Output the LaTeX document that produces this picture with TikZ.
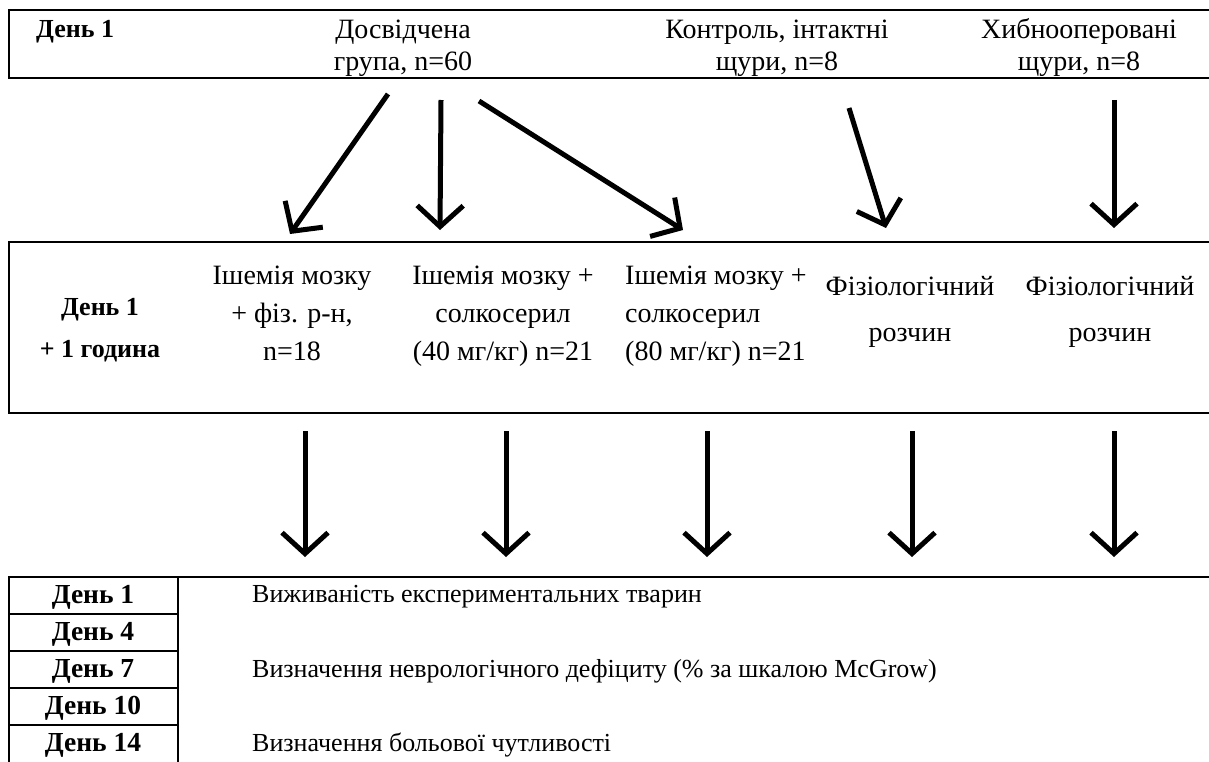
\documentclass[tikz,border=0pt]{standalone}
\usepackage{fontspec}
\setmainfont{Liberation Serif}
\usetikzlibrary{arrows.meta}
\tikzset{
  frame/.style={line width=2.5pt},
  txt/.style={font=\fontsize{28}{38}\selectfont, inner sep=0pt, align=center},
  toptxt/.style={font=\fontsize{28}{32}\selectfont, inner sep=0pt, align=center},
  daytxt/.style={font=\bfseries\fontsize{26}{42}\selectfont, inner sep=0pt, align=center},
  tabtxt/.style={font=\fontsize{26}{30}\selectfont, inner sep=0pt, anchor=west},
  tabday/.style={font=\bfseries\fontsize{27.5}{30}\selectfont, inner sep=0pt},
  bigarrow/.style={line width=5pt, -{Straight Barb[length=21pt,width=46pt]}},
}
\begin{document}
\begin{tikzpicture}[x=1pt,y=-1pt]
    \useasboundingbox (0,0) rectangle (1209,762);

    \draw[frame] (1209,10) -- (9,10) -- (9,78) -- (1209,78);
    \node[daytxt, anchor=west] (day0) at (36,32) {День 1};
    \node[toptxt] (grp) at (403,48) {Досвідчена\\група, n=60};
    \node[toptxt] (ctrl) at (777,48) {Контроль, інтактні\\щури, n=8};
    \node[toptxt] (sham) at (1079,48) {Хибнооперовані\\щури, n=8};

    \coordinate (a1s) at (388,94);
    \coordinate (a1e) at (290,234);
    \coordinate (a2s) at (441,100);
    \coordinate (a2e) at (440,230);
    \coordinate (a3s) at (479,101);
    \coordinate (a3e) at (683,230);
    \coordinate (a4s) at (849,108);
    \coordinate (a4e) at (886,228);
    \coordinate (a5s) at (1114,100);
    \coordinate (a5e) at (1114,228);
    \draw[bigarrow] (a1s) -- (a1e);
    \draw[bigarrow] (a2s) -- (a2e);
    \draw[bigarrow] (a3s) -- (a3e);
    \draw[bigarrow] (a4s) -- (a4e);
    \draw[bigarrow] (a5s) -- (a5e);

    \draw[frame] (1209,242) -- (9,242) -- (9,413) -- (1209,413);
    \node[daytxt] (dayhr) at (100,330) {День 1\\+ 1 година};
    \node[txt, anchor=north] (isch) at (292,266) {Ішемія мозку\\+ фіз. р-н,\\n=18};
    \node[txt, anchor=north] (sol40) at (503,266) {Ішемія мозку +\\солкосерил\\(40 мг/кг) n=21};
    \node[txt, align=left, anchor=north west] (sol80) at (625,266) {Ішемія мозку +\\солкосерил\\(80 мг/кг) n=21};
    \node[txt, font=\fontsize{28}{46}\selectfont] (phys1) at (910,312) {Фізіологічний\\розчин};
    \node[txt, font=\fontsize{28}{46}\selectfont] (phys2) at (1110,312) {Фізіологічний\\розчин};

    \coordinate (b1s) at (305,431);
    \coordinate (b1e) at (305,557);
    \coordinate (b2s) at (506,431);
    \coordinate (b2e) at (506,557);
    \coordinate (b3s) at (707,431);
    \coordinate (b3e) at (707,557);
    \coordinate (b4s) at (912,431);
    \coordinate (b4e) at (912,557);
    \coordinate (b5s) at (1114,431);
    \coordinate (b5e) at (1114,557);
    \draw[bigarrow] (b1s) -- (b1e);
    \draw[bigarrow] (b2s) -- (b2e);
    \draw[bigarrow] (b3s) -- (b3e);
    \draw[bigarrow] (b4s) -- (b4e);
    \draw[bigarrow] (b5s) -- (b5e);

    \draw[frame] (1209,577) -- (9,577) -- (9,762);
    \draw[frame] (178,577) -- (178,762);
    \draw[frame] (9,614) -- (178,614);
    \draw[frame] (9,651) -- (178,651);
    \draw[frame] (9,688) -- (178,688);
    \draw[frame] (9,725) -- (178,725);
    \node[tabday] (d1) at (93,597) {День 1};
    \node[tabday] (d4) at (93,634) {День 4};
    \node[tabday] (d7) at (93,671) {День 7};
    \node[tabday] (d10) at (93,708) {День 10};
    \node[tabday] (d14) at (93,745) {День 14};
    \node[tabtxt] (surv) at (252,597) {Виживаність експериментальних тварин};
    \node[tabtxt] (neuro) at (252,671) {Визначення неврологічного дефіциту (\% за шкалою McGrow)};
    \node[tabtxt] (pain) at (252,745) {Визначення больової чутливості};
\end{tikzpicture}
\end{document}
